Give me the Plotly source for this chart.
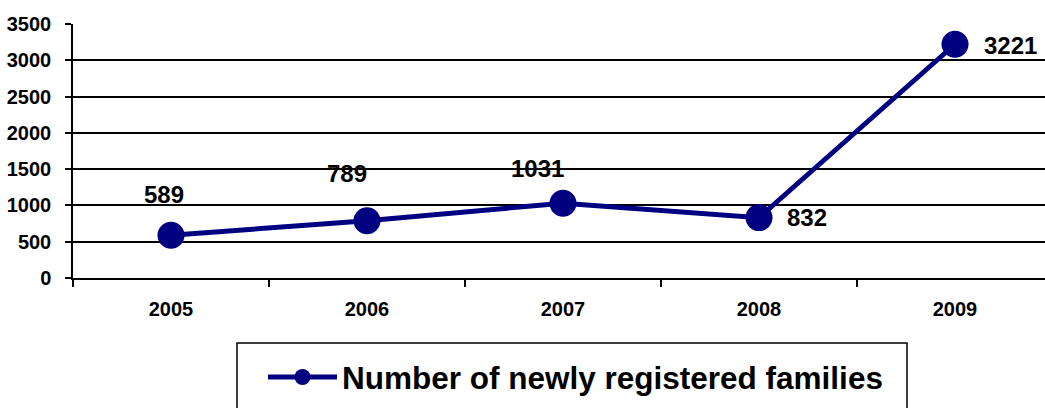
import plotly.graph_objects as go

years = ["2005", "2006", "2007", "2008", "2009"]
families = [589, 789, 1031, 832, 3221]
y_ticks = [0, 500, 1000, 1500, 2000, 2500, 3000, 3500]
series_name = "Number of newly registered families"

W, H = 1045, 408
ML, MT, MB = 73, 24, 130
plot_w = W - ML
plot_h = H - MT - MB
cat_px = 196.0
x_right = (plot_w / cat_px) - 0.5

NAVY = "#000080"
FONT = "Liberation Sans, Arial, sans-serif"

def px_x(p):
    return (p - ML) / plot_w

def px_y(p):
    return (H - MB - p) / plot_h

fig = go.Figure()
fig.add_trace(go.Scatter(
    x=years, y=families, mode="lines+markers", name=series_name,
    line=dict(color=NAVY, width=5),
    marker=dict(color=NAVY, size=27),
    cliponaxis=False,
))

shifts = [(-7, 41), (-20, 47), (-26, 35), (48, 0), (55, -1)]
for i, (v, (dx, dy)) in enumerate(zip(families, shifts)):
    fig.add_annotation(x=i, y=v, xref="x", yref="y", text=str(v), showarrow=False,
                       xshift=dx, yshift=dy,
                       font=dict(family=FONT, size=24, color="black", weight="bold"))

# legend frame
fig.add_shape(type="rect", xref="paper", yref="paper",
              x0=px_x(237), x1=px_x(907), y0=px_y(420), y1=px_y(343),
              line=dict(color="black", width=1.5), fillcolor="rgba(0,0,0,0)")

fig.update_layout(
    width=W, height=H,
    margin=dict(l=ML, r=0, t=MT, b=MB, pad=0),
    paper_bgcolor="white", plot_bgcolor="white",
    showlegend=True,
    legend=dict(x=px_x(263), y=px_y(377), xanchor="left", yanchor="middle",
                orientation="h", bgcolor="rgba(0,0,0,0)", borderwidth=0,
                itemwidth=69,
                font=dict(family=FONT, size=31.5, color="black", weight="bold")),
    xaxis=dict(type="category", range=[-0.5, x_right], tickson="boundaries",
               ticks="outside", ticklen=7, tickwidth=1.5, tickcolor="black",
               showgrid=False, showline=True, linecolor="black", linewidth=1.5,
               ticklabelstandoff=12,
               tickfont=dict(family=FONT, size=20, color="black", weight="bold")),
    yaxis=dict(range=[0, 3500], tickvals=y_ticks, ticks="outside", ticklen=6,
               tickwidth=1.5, tickcolor="black", showgrid=True, gridcolor="black",
               gridwidth=1.5, showline=True, linecolor="black", linewidth=1.5,
               zeroline=False, ticklabelstandoff=10,
               tickfont=dict(family=FONT, size=20, color="black", weight="bold")),
)

fig.write_html("out.html", config={"displayModeBar": False},
               post_script="document.body.style.margin='0';document.body.style.overflow='hidden';")
